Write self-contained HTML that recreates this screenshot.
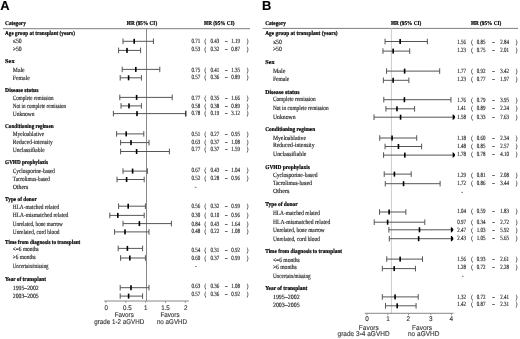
<!DOCTYPE html>
<html><head><meta charset="utf-8"><style>
html,body{margin:0;padding:0;background:#fff;}
svg{display:block;will-change:transform;text-rendering:geometricPrecision;}
</style></head><body>
<svg width="520" height="339" viewBox="0 0 520 339">
<defs><filter id="bl" x="0" y="0" width="100%" height="100%"><feGaussianBlur stdDeviation="0.35"/></filter></defs>
<rect width="520" height="339" fill="#fff"/>
<g filter="url(#bl)">
<text transform="translate(0.20,9.70) scale(0.1000,0.1000)" font-size="130.0" font-family='"Liberation Sans", sans-serif' font-weight="bold" fill="#000" stroke="#000" stroke-width="1.20">A</text>
<text transform="translate(5.10,25.10) scale(0.1000,0.1150)" font-size="52.5" font-family='"Liberation Serif", serif' font-weight="bold" fill="#000" stroke="#000" stroke-width="1.80">Category</text>
<text transform="translate(126.80,25.10) scale(0.1000,0.1150)" font-size="52.5" font-family='"Liberation Serif", serif' font-weight="bold" fill="#000" stroke="#000" stroke-width="1.80">HR (95% CI)</text>
<text transform="translate(204.10,25.10) scale(0.1000,0.1150)" font-size="52.5" font-family='"Liberation Serif", serif' font-weight="bold" fill="#000" stroke="#000" stroke-width="1.80">HR (95% CI)</text>
<line x1="3.00" y1="28.70" x2="250.00" y2="28.70" stroke="#707070" stroke-width="0.9"/>
<line x1="146.50" y1="28.70" x2="146.50" y2="301.00" stroke="#8a8a8a" stroke-width="1.0"/>
<text transform="translate(5.10,35.30) scale(0.0990,0.1150)" font-size="52.5" font-family='"Liberation Serif", serif' font-weight="bold" fill="#000" stroke="#000" stroke-width="1.80">Age group at transplant (years)</text>
<text transform="translate(12.80,43.10) scale(0.1139,0.1300)" font-size="50.0" font-family='"Liberation Serif", serif' fill="#222" stroke="#222" stroke-width="1.20">≤50</text>
<text transform="translate(191.40,43.00) scale(0.1000,0.1300)" font-size="50.0" font-family='"Liberation Serif", serif' fill="#222" stroke="#222" stroke-width="1.20">0.71</text>
<text transform="translate(204.50,43.00) scale(0.1000,0.1300)" font-size="50.0" font-family='"Liberation Serif", serif' fill="#222" stroke="#222" stroke-width="1.20">(</text>
<text transform="translate(210.40,43.00) scale(0.1000,0.1300)" font-size="50.0" font-family='"Liberation Serif", serif' fill="#222" stroke="#222" stroke-width="1.20">0.43</text>
<text transform="translate(225.00,43.00) scale(0.1000,0.1300)" font-size="50.0" font-family='"Liberation Serif", serif' fill="#222" stroke="#222" stroke-width="1.20">–</text>
<text transform="translate(231.30,43.00) scale(0.1000,0.1300)" font-size="50.0" font-family='"Liberation Serif", serif' fill="#222" stroke="#222" stroke-width="1.20">1.19</text>
<text transform="translate(246.80,43.00) scale(0.1000,0.1300)" font-size="50.0" font-family='"Liberation Serif", serif' fill="#222" stroke="#222" stroke-width="1.20">)</text>
<line x1="123.00" y1="41.30" x2="153.40" y2="41.30" stroke="#555" stroke-width="1.0"/>
<line x1="123.00" y1="38.50" x2="123.00" y2="44.10" stroke="#555" stroke-width="1.0"/>
<line x1="153.40" y1="38.50" x2="153.40" y2="44.10" stroke="#555" stroke-width="1.0"/>
<rect x="133.40" y="38.80" width="1.60" height="5.00" fill="#000"/>
<text transform="translate(12.80,51.00) scale(0.1139,0.1300)" font-size="50.0" font-family='"Liberation Serif", serif' fill="#222" stroke="#222" stroke-width="1.20">&gt;50</text>
<text transform="translate(191.40,50.90) scale(0.1000,0.1300)" font-size="50.0" font-family='"Liberation Serif", serif' fill="#222" stroke="#222" stroke-width="1.20">0.53</text>
<text transform="translate(204.50,50.90) scale(0.1000,0.1300)" font-size="50.0" font-family='"Liberation Serif", serif' fill="#222" stroke="#222" stroke-width="1.20">(</text>
<text transform="translate(210.40,50.90) scale(0.1000,0.1300)" font-size="50.0" font-family='"Liberation Serif", serif' fill="#222" stroke="#222" stroke-width="1.20">0.32</text>
<text transform="translate(225.00,50.90) scale(0.1000,0.1300)" font-size="50.0" font-family='"Liberation Serif", serif' fill="#222" stroke="#222" stroke-width="1.20">–</text>
<text transform="translate(231.30,50.90) scale(0.1000,0.1300)" font-size="50.0" font-family='"Liberation Serif", serif' fill="#222" stroke="#222" stroke-width="1.20">0.87</text>
<text transform="translate(246.80,50.90) scale(0.1000,0.1300)" font-size="50.0" font-family='"Liberation Serif", serif' fill="#222" stroke="#222" stroke-width="1.20">)</text>
<line x1="118.60" y1="50.40" x2="140.60" y2="50.40" stroke="#555" stroke-width="1.0"/>
<line x1="118.60" y1="47.60" x2="118.60" y2="53.20" stroke="#555" stroke-width="1.0"/>
<line x1="140.60" y1="47.60" x2="140.60" y2="53.20" stroke="#555" stroke-width="1.0"/>
<rect x="126.20" y="47.90" width="1.60" height="5.00" fill="#000"/>
<text transform="translate(5.10,63.40) scale(0.1197,0.1150)" font-size="52.5" font-family='"Liberation Serif", serif' font-weight="bold" fill="#000" stroke="#000" stroke-width="1.80">Sex</text>
<text transform="translate(12.80,71.50) scale(0.1146,0.1300)" font-size="50.0" font-family='"Liberation Serif", serif' fill="#222" stroke="#222" stroke-width="1.20">Male</text>
<text transform="translate(191.40,71.60) scale(0.1000,0.1300)" font-size="50.0" font-family='"Liberation Serif", serif' fill="#222" stroke="#222" stroke-width="1.20">0.75</text>
<text transform="translate(204.50,71.60) scale(0.1000,0.1300)" font-size="50.0" font-family='"Liberation Serif", serif' fill="#222" stroke="#222" stroke-width="1.20">(</text>
<text transform="translate(210.40,71.60) scale(0.1000,0.1300)" font-size="50.0" font-family='"Liberation Serif", serif' fill="#222" stroke="#222" stroke-width="1.20">0.41</text>
<text transform="translate(225.00,71.60) scale(0.1000,0.1300)" font-size="50.0" font-family='"Liberation Serif", serif' fill="#222" stroke="#222" stroke-width="1.20">–</text>
<text transform="translate(231.30,71.60) scale(0.1000,0.1300)" font-size="50.0" font-family='"Liberation Serif", serif' fill="#222" stroke="#222" stroke-width="1.20">1.35</text>
<text transform="translate(246.80,71.60) scale(0.1000,0.1300)" font-size="50.0" font-family='"Liberation Serif", serif' fill="#222" stroke="#222" stroke-width="1.20">)</text>
<line x1="122.20" y1="69.40" x2="159.80" y2="69.40" stroke="#555" stroke-width="1.0"/>
<line x1="122.20" y1="66.60" x2="122.20" y2="72.20" stroke="#555" stroke-width="1.0"/>
<line x1="159.80" y1="66.60" x2="159.80" y2="72.20" stroke="#555" stroke-width="1.0"/>
<rect x="135.00" y="66.90" width="1.60" height="5.00" fill="#000"/>
<text transform="translate(12.80,79.70) scale(0.1147,0.1300)" font-size="50.0" font-family='"Liberation Serif", serif' fill="#222" stroke="#222" stroke-width="1.20">Female</text>
<text transform="translate(191.40,79.40) scale(0.1000,0.1300)" font-size="50.0" font-family='"Liberation Serif", serif' fill="#222" stroke="#222" stroke-width="1.20">0.57</text>
<text transform="translate(204.50,79.40) scale(0.1000,0.1300)" font-size="50.0" font-family='"Liberation Serif", serif' fill="#222" stroke="#222" stroke-width="1.20">(</text>
<text transform="translate(210.40,79.40) scale(0.1000,0.1300)" font-size="50.0" font-family='"Liberation Serif", serif' fill="#222" stroke="#222" stroke-width="1.20">0.36</text>
<text transform="translate(225.00,79.40) scale(0.1000,0.1300)" font-size="50.0" font-family='"Liberation Serif", serif' fill="#222" stroke="#222" stroke-width="1.20">–</text>
<text transform="translate(231.30,79.40) scale(0.1000,0.1300)" font-size="50.0" font-family='"Liberation Serif", serif' fill="#222" stroke="#222" stroke-width="1.20">0.89</text>
<text transform="translate(246.80,79.40) scale(0.1000,0.1300)" font-size="50.0" font-family='"Liberation Serif", serif' fill="#222" stroke="#222" stroke-width="1.20">)</text>
<line x1="120.20" y1="77.80" x2="141.40" y2="77.80" stroke="#555" stroke-width="1.0"/>
<line x1="120.20" y1="75.00" x2="120.20" y2="80.60" stroke="#555" stroke-width="1.0"/>
<line x1="141.40" y1="75.00" x2="141.40" y2="80.60" stroke="#555" stroke-width="1.0"/>
<rect x="127.80" y="75.30" width="1.60" height="5.00" fill="#000"/>
<text transform="translate(5.10,92.00) scale(0.1071,0.1150)" font-size="52.5" font-family='"Liberation Serif", serif' font-weight="bold" fill="#000" stroke="#000" stroke-width="1.80">Disease status</text>
<text transform="translate(12.80,99.80) scale(0.1018,0.1300)" font-size="50.0" font-family='"Liberation Serif", serif' fill="#222" stroke="#222" stroke-width="1.20">Complete remission</text>
<text transform="translate(191.40,99.60) scale(0.1000,0.1300)" font-size="50.0" font-family='"Liberation Serif", serif' fill="#222" stroke="#222" stroke-width="1.20">0.77</text>
<text transform="translate(204.50,99.60) scale(0.1000,0.1300)" font-size="50.0" font-family='"Liberation Serif", serif' fill="#222" stroke="#222" stroke-width="1.20">(</text>
<text transform="translate(210.40,99.60) scale(0.1000,0.1300)" font-size="50.0" font-family='"Liberation Serif", serif' fill="#222" stroke="#222" stroke-width="1.20">0.35</text>
<text transform="translate(225.00,99.60) scale(0.1000,0.1300)" font-size="50.0" font-family='"Liberation Serif", serif' fill="#222" stroke="#222" stroke-width="1.20">–</text>
<text transform="translate(231.30,99.60) scale(0.1000,0.1300)" font-size="50.0" font-family='"Liberation Serif", serif' fill="#222" stroke="#222" stroke-width="1.20">1.66</text>
<text transform="translate(246.80,99.60) scale(0.1000,0.1300)" font-size="50.0" font-family='"Liberation Serif", serif' fill="#222" stroke="#222" stroke-width="1.20">)</text>
<line x1="119.80" y1="97.40" x2="172.20" y2="97.40" stroke="#555" stroke-width="1.0"/>
<line x1="119.80" y1="94.60" x2="119.80" y2="100.20" stroke="#555" stroke-width="1.0"/>
<line x1="172.20" y1="94.60" x2="172.20" y2="100.20" stroke="#555" stroke-width="1.0"/>
<rect x="135.80" y="94.90" width="1.60" height="5.00" fill="#000"/>
<text transform="translate(12.80,107.90) scale(0.1008,0.1300)" font-size="50.0" font-family='"Liberation Serif", serif' fill="#222" stroke="#222" stroke-width="1.20">Not in complete remission</text>
<text transform="translate(191.40,107.70) scale(0.1000,0.1300)" font-size="50.0" font-family='"Liberation Serif", serif' fill="#222" stroke="#222" stroke-width="1.20">0.58</text>
<text transform="translate(204.50,107.70) scale(0.1000,0.1300)" font-size="50.0" font-family='"Liberation Serif", serif' fill="#222" stroke="#222" stroke-width="1.20">(</text>
<text transform="translate(210.40,107.70) scale(0.1000,0.1300)" font-size="50.0" font-family='"Liberation Serif", serif' fill="#222" stroke="#222" stroke-width="1.20">0.38</text>
<text transform="translate(225.00,107.70) scale(0.1000,0.1300)" font-size="50.0" font-family='"Liberation Serif", serif' fill="#222" stroke="#222" stroke-width="1.20">–</text>
<text transform="translate(231.30,107.70) scale(0.1000,0.1300)" font-size="50.0" font-family='"Liberation Serif", serif' fill="#222" stroke="#222" stroke-width="1.20">0.89</text>
<text transform="translate(246.80,107.70) scale(0.1000,0.1300)" font-size="50.0" font-family='"Liberation Serif", serif' fill="#222" stroke="#222" stroke-width="1.20">)</text>
<line x1="121.00" y1="105.90" x2="141.40" y2="105.90" stroke="#555" stroke-width="1.0"/>
<line x1="121.00" y1="103.10" x2="121.00" y2="108.70" stroke="#555" stroke-width="1.0"/>
<line x1="141.40" y1="103.10" x2="141.40" y2="108.70" stroke="#555" stroke-width="1.0"/>
<rect x="128.20" y="103.40" width="1.60" height="5.00" fill="#000"/>
<text transform="translate(12.80,116.00) scale(0.1095,0.1300)" font-size="50.0" font-family='"Liberation Serif", serif' fill="#222" stroke="#222" stroke-width="1.20">Unknown</text>
<text transform="translate(191.40,115.40) scale(0.1000,0.1300)" font-size="50.0" font-family='"Liberation Serif", serif' fill="#222" stroke="#222" stroke-width="1.20">0.78</text>
<text transform="translate(204.50,115.40) scale(0.1000,0.1300)" font-size="50.0" font-family='"Liberation Serif", serif' fill="#222" stroke="#222" stroke-width="1.20">(</text>
<text transform="translate(210.40,115.40) scale(0.1000,0.1300)" font-size="50.0" font-family='"Liberation Serif", serif' fill="#222" stroke="#222" stroke-width="1.20">0.19</text>
<text transform="translate(225.00,115.40) scale(0.1000,0.1300)" font-size="50.0" font-family='"Liberation Serif", serif' fill="#222" stroke="#222" stroke-width="1.20">–</text>
<text transform="translate(231.30,115.40) scale(0.1000,0.1300)" font-size="50.0" font-family='"Liberation Serif", serif' fill="#222" stroke="#222" stroke-width="1.20">3.12</text>
<text transform="translate(246.80,115.40) scale(0.1000,0.1300)" font-size="50.0" font-family='"Liberation Serif", serif' fill="#222" stroke="#222" stroke-width="1.20">)</text>
<line x1="113.40" y1="113.60" x2="185.80" y2="113.60" stroke="#555" stroke-width="1.0"/>
<line x1="113.40" y1="110.80" x2="113.40" y2="116.40" stroke="#555" stroke-width="1.0"/>
<line x1="185.80" y1="110.80" x2="185.80" y2="116.40" stroke="#222" stroke-width="1.3"/>
<rect x="136.20" y="111.10" width="1.60" height="5.00" fill="#000"/>
<text transform="translate(5.10,128.30) scale(0.0989,0.1150)" font-size="52.5" font-family='"Liberation Serif", serif' font-weight="bold" fill="#000" stroke="#000" stroke-width="1.80">Conditioning regimen</text>
<text transform="translate(12.80,136.30) scale(0.1082,0.1300)" font-size="50.0" font-family='"Liberation Serif", serif' fill="#222" stroke="#222" stroke-width="1.20">Myeloablative</text>
<text transform="translate(191.40,136.00) scale(0.1000,0.1300)" font-size="50.0" font-family='"Liberation Serif", serif' fill="#222" stroke="#222" stroke-width="1.20">0.51</text>
<text transform="translate(204.50,136.00) scale(0.1000,0.1300)" font-size="50.0" font-family='"Liberation Serif", serif' fill="#222" stroke="#222" stroke-width="1.20">(</text>
<text transform="translate(210.40,136.00) scale(0.1000,0.1300)" font-size="50.0" font-family='"Liberation Serif", serif' fill="#222" stroke="#222" stroke-width="1.20">0.27</text>
<text transform="translate(225.00,136.00) scale(0.1000,0.1300)" font-size="50.0" font-family='"Liberation Serif", serif' fill="#222" stroke="#222" stroke-width="1.20">–</text>
<text transform="translate(231.30,136.00) scale(0.1000,0.1300)" font-size="50.0" font-family='"Liberation Serif", serif' fill="#222" stroke="#222" stroke-width="1.20">0.95</text>
<text transform="translate(246.80,136.00) scale(0.1000,0.1300)" font-size="50.0" font-family='"Liberation Serif", serif' fill="#222" stroke="#222" stroke-width="1.20">)</text>
<line x1="116.60" y1="133.90" x2="143.80" y2="133.90" stroke="#555" stroke-width="1.0"/>
<line x1="116.60" y1="131.10" x2="116.60" y2="136.70" stroke="#555" stroke-width="1.0"/>
<line x1="143.80" y1="131.10" x2="143.80" y2="136.70" stroke="#555" stroke-width="1.0"/>
<rect x="125.40" y="131.40" width="1.60" height="5.00" fill="#000"/>
<text transform="translate(12.80,144.20) scale(0.1095,0.1300)" font-size="50.0" font-family='"Liberation Serif", serif' fill="#222" stroke="#222" stroke-width="1.20">Reduced-intensity</text>
<text transform="translate(191.40,143.80) scale(0.1000,0.1300)" font-size="50.0" font-family='"Liberation Serif", serif' fill="#222" stroke="#222" stroke-width="1.20">0.63</text>
<text transform="translate(204.50,143.80) scale(0.1000,0.1300)" font-size="50.0" font-family='"Liberation Serif", serif' fill="#222" stroke="#222" stroke-width="1.20">(</text>
<text transform="translate(210.40,143.80) scale(0.1000,0.1300)" font-size="50.0" font-family='"Liberation Serif", serif' fill="#222" stroke="#222" stroke-width="1.20">0.37</text>
<text transform="translate(225.00,143.80) scale(0.1000,0.1300)" font-size="50.0" font-family='"Liberation Serif", serif' fill="#222" stroke="#222" stroke-width="1.20">–</text>
<text transform="translate(231.30,143.80) scale(0.1000,0.1300)" font-size="50.0" font-family='"Liberation Serif", serif' fill="#222" stroke="#222" stroke-width="1.20">1.08</text>
<text transform="translate(246.80,143.80) scale(0.1000,0.1300)" font-size="50.0" font-family='"Liberation Serif", serif' fill="#222" stroke="#222" stroke-width="1.20">)</text>
<line x1="120.60" y1="142.60" x2="149.00" y2="142.60" stroke="#555" stroke-width="1.0"/>
<line x1="120.60" y1="139.80" x2="120.60" y2="145.40" stroke="#555" stroke-width="1.0"/>
<line x1="149.00" y1="139.80" x2="149.00" y2="145.40" stroke="#555" stroke-width="1.0"/>
<rect x="130.20" y="140.10" width="1.60" height="5.00" fill="#000"/>
<text transform="translate(12.80,152.10) scale(0.1112,0.1300)" font-size="50.0" font-family='"Liberation Serif", serif' fill="#222" stroke="#222" stroke-width="1.20">Unclassifiable</text>
<text transform="translate(191.40,151.20) scale(0.1000,0.1300)" font-size="50.0" font-family='"Liberation Serif", serif' fill="#222" stroke="#222" stroke-width="1.20">0.77</text>
<text transform="translate(204.50,151.20) scale(0.1000,0.1300)" font-size="50.0" font-family='"Liberation Serif", serif' fill="#222" stroke="#222" stroke-width="1.20">(</text>
<text transform="translate(210.40,151.20) scale(0.1000,0.1300)" font-size="50.0" font-family='"Liberation Serif", serif' fill="#222" stroke="#222" stroke-width="1.20">0.37</text>
<text transform="translate(225.00,151.20) scale(0.1000,0.1300)" font-size="50.0" font-family='"Liberation Serif", serif' fill="#222" stroke="#222" stroke-width="1.20">–</text>
<text transform="translate(231.30,151.20) scale(0.1000,0.1300)" font-size="50.0" font-family='"Liberation Serif", serif' fill="#222" stroke="#222" stroke-width="1.20">1.59</text>
<text transform="translate(246.80,151.20) scale(0.1000,0.1300)" font-size="50.0" font-family='"Liberation Serif", serif' fill="#222" stroke="#222" stroke-width="1.20">)</text>
<line x1="120.60" y1="151.50" x2="169.40" y2="151.50" stroke="#555" stroke-width="1.0"/>
<line x1="120.60" y1="148.70" x2="120.60" y2="154.30" stroke="#555" stroke-width="1.0"/>
<line x1="169.40" y1="148.70" x2="169.40" y2="154.30" stroke="#555" stroke-width="1.0"/>
<rect x="135.80" y="149.00" width="1.60" height="5.00" fill="#000"/>
<text transform="translate(5.10,164.40) scale(0.0986,0.1150)" font-size="52.5" font-family='"Liberation Serif", serif' font-weight="bold" fill="#000" stroke="#000" stroke-width="1.80">GVHD prophylaxis</text>
<text transform="translate(12.80,172.50) scale(0.1063,0.1300)" font-size="50.0" font-family='"Liberation Serif", serif' fill="#222" stroke="#222" stroke-width="1.20">Cyclosporine-based</text>
<text transform="translate(191.40,171.90) scale(0.1000,0.1300)" font-size="50.0" font-family='"Liberation Serif", serif' fill="#222" stroke="#222" stroke-width="1.20">0.67</text>
<text transform="translate(204.50,171.90) scale(0.1000,0.1300)" font-size="50.0" font-family='"Liberation Serif", serif' fill="#222" stroke="#222" stroke-width="1.20">(</text>
<text transform="translate(210.40,171.90) scale(0.1000,0.1300)" font-size="50.0" font-family='"Liberation Serif", serif' fill="#222" stroke="#222" stroke-width="1.20">0.43</text>
<text transform="translate(225.00,171.90) scale(0.1000,0.1300)" font-size="50.0" font-family='"Liberation Serif", serif' fill="#222" stroke="#222" stroke-width="1.20">–</text>
<text transform="translate(231.30,171.90) scale(0.1000,0.1300)" font-size="50.0" font-family='"Liberation Serif", serif' fill="#222" stroke="#222" stroke-width="1.20">1.04</text>
<text transform="translate(246.80,171.90) scale(0.1000,0.1300)" font-size="50.0" font-family='"Liberation Serif", serif' fill="#222" stroke="#222" stroke-width="1.20">)</text>
<line x1="123.00" y1="171.10" x2="147.40" y2="171.10" stroke="#555" stroke-width="1.0"/>
<line x1="123.00" y1="168.30" x2="123.00" y2="173.90" stroke="#555" stroke-width="1.0"/>
<line x1="147.40" y1="168.30" x2="147.40" y2="173.90" stroke="#555" stroke-width="1.0"/>
<rect x="131.80" y="168.60" width="1.60" height="5.00" fill="#000"/>
<text transform="translate(12.80,180.70) scale(0.1047,0.1300)" font-size="50.0" font-family='"Liberation Serif", serif' fill="#222" stroke="#222" stroke-width="1.20">Tacrolimus-based</text>
<text transform="translate(191.40,180.00) scale(0.1000,0.1300)" font-size="50.0" font-family='"Liberation Serif", serif' fill="#222" stroke="#222" stroke-width="1.20">0.52</text>
<text transform="translate(204.50,180.00) scale(0.1000,0.1300)" font-size="50.0" font-family='"Liberation Serif", serif' fill="#222" stroke="#222" stroke-width="1.20">(</text>
<text transform="translate(210.40,180.00) scale(0.1000,0.1300)" font-size="50.0" font-family='"Liberation Serif", serif' fill="#222" stroke="#222" stroke-width="1.20">0.28</text>
<text transform="translate(225.00,180.00) scale(0.1000,0.1300)" font-size="50.0" font-family='"Liberation Serif", serif' fill="#222" stroke="#222" stroke-width="1.20">–</text>
<text transform="translate(231.30,180.00) scale(0.1000,0.1300)" font-size="50.0" font-family='"Liberation Serif", serif' fill="#222" stroke="#222" stroke-width="1.20">0.96</text>
<text transform="translate(246.80,180.00) scale(0.1000,0.1300)" font-size="50.0" font-family='"Liberation Serif", serif' fill="#222" stroke="#222" stroke-width="1.20">)</text>
<line x1="117.00" y1="179.50" x2="144.20" y2="179.50" stroke="#555" stroke-width="1.0"/>
<line x1="117.00" y1="176.70" x2="117.00" y2="182.30" stroke="#555" stroke-width="1.0"/>
<line x1="144.20" y1="176.70" x2="144.20" y2="182.30" stroke="#555" stroke-width="1.0"/>
<rect x="125.80" y="177.00" width="1.60" height="5.00" fill="#000"/>
<text transform="translate(12.80,188.50) scale(0.1160,0.1300)" font-size="50.0" font-family='"Liberation Serif", serif' fill="#222" stroke="#222" stroke-width="1.20">Others</text>
<rect x="194.80" y="186.90" width="1.60" height="0.80" fill="#555"/>
<text transform="translate(5.10,200.70) scale(0.1007,0.1150)" font-size="52.5" font-family='"Liberation Serif", serif' font-weight="bold" fill="#000" stroke="#000" stroke-width="1.80">Type of donor</text>
<text transform="translate(12.80,209.20) scale(0.1060,0.1300)" font-size="50.0" font-family='"Liberation Serif", serif' fill="#222" stroke="#222" stroke-width="1.20">HLA-matched related</text>
<text transform="translate(191.40,208.40) scale(0.1000,0.1300)" font-size="50.0" font-family='"Liberation Serif", serif' fill="#222" stroke="#222" stroke-width="1.20">0.56</text>
<text transform="translate(204.50,208.40) scale(0.1000,0.1300)" font-size="50.0" font-family='"Liberation Serif", serif' fill="#222" stroke="#222" stroke-width="1.20">(</text>
<text transform="translate(210.40,208.40) scale(0.1000,0.1300)" font-size="50.0" font-family='"Liberation Serif", serif' fill="#222" stroke="#222" stroke-width="1.20">0.32</text>
<text transform="translate(225.00,208.40) scale(0.1000,0.1300)" font-size="50.0" font-family='"Liberation Serif", serif' fill="#222" stroke="#222" stroke-width="1.20">–</text>
<text transform="translate(231.30,208.40) scale(0.1000,0.1300)" font-size="50.0" font-family='"Liberation Serif", serif' fill="#222" stroke="#222" stroke-width="1.20">0.99</text>
<text transform="translate(246.80,208.40) scale(0.1000,0.1300)" font-size="50.0" font-family='"Liberation Serif", serif' fill="#222" stroke="#222" stroke-width="1.20">)</text>
<line x1="118.60" y1="206.20" x2="145.40" y2="206.20" stroke="#555" stroke-width="1.0"/>
<line x1="118.60" y1="203.40" x2="118.60" y2="209.00" stroke="#555" stroke-width="1.0"/>
<line x1="145.40" y1="203.40" x2="145.40" y2="209.00" stroke="#555" stroke-width="1.0"/>
<rect x="127.40" y="203.70" width="1.60" height="5.00" fill="#000"/>
<text transform="translate(12.80,217.30) scale(0.1090,0.1300)" font-size="50.0" font-family='"Liberation Serif", serif' fill="#222" stroke="#222" stroke-width="1.20">HLA-mismatched related</text>
<text transform="translate(191.40,216.90) scale(0.1000,0.1300)" font-size="50.0" font-family='"Liberation Serif", serif' fill="#222" stroke="#222" stroke-width="1.20">0.30</text>
<text transform="translate(204.50,216.90) scale(0.1000,0.1300)" font-size="50.0" font-family='"Liberation Serif", serif' fill="#222" stroke="#222" stroke-width="1.20">(</text>
<text transform="translate(210.40,216.90) scale(0.1000,0.1300)" font-size="50.0" font-family='"Liberation Serif", serif' fill="#222" stroke="#222" stroke-width="1.20">0.10</text>
<text transform="translate(225.00,216.90) scale(0.1000,0.1300)" font-size="50.0" font-family='"Liberation Serif", serif' fill="#222" stroke="#222" stroke-width="1.20">–</text>
<text transform="translate(231.30,216.90) scale(0.1000,0.1300)" font-size="50.0" font-family='"Liberation Serif", serif' fill="#222" stroke="#222" stroke-width="1.20">0.96</text>
<text transform="translate(246.80,216.90) scale(0.1000,0.1300)" font-size="50.0" font-family='"Liberation Serif", serif' fill="#222" stroke="#222" stroke-width="1.20">)</text>
<line x1="109.80" y1="215.40" x2="144.20" y2="215.40" stroke="#555" stroke-width="1.0"/>
<line x1="109.80" y1="212.60" x2="109.80" y2="218.20" stroke="#555" stroke-width="1.0"/>
<line x1="144.20" y1="212.60" x2="144.20" y2="218.20" stroke="#555" stroke-width="1.0"/>
<rect x="117.00" y="212.90" width="1.60" height="5.00" fill="#000"/>
<text transform="translate(12.80,226.40) scale(0.1025,0.1300)" font-size="50.0" font-family='"Liberation Serif", serif' fill="#222" stroke="#222" stroke-width="1.20">Unrelated, bone marrow</text>
<text transform="translate(191.40,225.60) scale(0.1000,0.1300)" font-size="50.0" font-family='"Liberation Serif", serif' fill="#222" stroke="#222" stroke-width="1.20">0.84</text>
<text transform="translate(204.50,225.60) scale(0.1000,0.1300)" font-size="50.0" font-family='"Liberation Serif", serif' fill="#222" stroke="#222" stroke-width="1.20">(</text>
<text transform="translate(210.40,225.60) scale(0.1000,0.1300)" font-size="50.0" font-family='"Liberation Serif", serif' fill="#222" stroke="#222" stroke-width="1.20">0.43</text>
<text transform="translate(225.00,225.60) scale(0.1000,0.1300)" font-size="50.0" font-family='"Liberation Serif", serif' fill="#222" stroke="#222" stroke-width="1.20">–</text>
<text transform="translate(231.30,225.60) scale(0.1000,0.1300)" font-size="50.0" font-family='"Liberation Serif", serif' fill="#222" stroke="#222" stroke-width="1.20">1.64</text>
<text transform="translate(246.80,225.60) scale(0.1000,0.1300)" font-size="50.0" font-family='"Liberation Serif", serif' fill="#222" stroke="#222" stroke-width="1.20">)</text>
<line x1="123.00" y1="223.60" x2="171.40" y2="223.60" stroke="#555" stroke-width="1.0"/>
<line x1="123.00" y1="220.80" x2="123.00" y2="226.40" stroke="#555" stroke-width="1.0"/>
<line x1="171.40" y1="220.80" x2="171.40" y2="226.40" stroke="#555" stroke-width="1.0"/>
<rect x="138.60" y="221.10" width="1.60" height="5.00" fill="#000"/>
<text transform="translate(12.80,234.30) scale(0.1067,0.1300)" font-size="50.0" font-family='"Liberation Serif", serif' fill="#222" stroke="#222" stroke-width="1.20">Unrelated, cord blood</text>
<text transform="translate(191.40,232.80) scale(0.1000,0.1300)" font-size="50.0" font-family='"Liberation Serif", serif' fill="#222" stroke="#222" stroke-width="1.20">0.48</text>
<text transform="translate(204.50,232.80) scale(0.1000,0.1300)" font-size="50.0" font-family='"Liberation Serif", serif' fill="#222" stroke="#222" stroke-width="1.20">(</text>
<text transform="translate(210.40,232.80) scale(0.1000,0.1300)" font-size="50.0" font-family='"Liberation Serif", serif' fill="#222" stroke="#222" stroke-width="1.20">0.22</text>
<text transform="translate(225.00,232.80) scale(0.1000,0.1300)" font-size="50.0" font-family='"Liberation Serif", serif' fill="#222" stroke="#222" stroke-width="1.20">–</text>
<text transform="translate(231.30,232.80) scale(0.1000,0.1300)" font-size="50.0" font-family='"Liberation Serif", serif' fill="#222" stroke="#222" stroke-width="1.20">1.08</text>
<text transform="translate(246.80,232.80) scale(0.1000,0.1300)" font-size="50.0" font-family='"Liberation Serif", serif' fill="#222" stroke="#222" stroke-width="1.20">)</text>
<line x1="114.60" y1="231.90" x2="149.00" y2="231.90" stroke="#555" stroke-width="1.0"/>
<line x1="114.60" y1="229.10" x2="114.60" y2="234.70" stroke="#555" stroke-width="1.0"/>
<line x1="149.00" y1="229.10" x2="149.00" y2="234.70" stroke="#555" stroke-width="1.0"/>
<rect x="124.20" y="229.40" width="1.60" height="5.00" fill="#000"/>
<text transform="translate(5.10,243.80) scale(0.0987,0.1150)" font-size="52.5" font-family='"Liberation Serif", serif' font-weight="bold" fill="#000" stroke="#000" stroke-width="1.80">Time from diagnosis to transplant</text>
<text transform="translate(12.80,250.60) scale(0.1074,0.1300)" font-size="50.0" font-family='"Liberation Serif", serif' fill="#222" stroke="#222" stroke-width="1.20">&lt;=6 months</text>
<text transform="translate(191.40,251.50) scale(0.1000,0.1300)" font-size="50.0" font-family='"Liberation Serif", serif' fill="#222" stroke="#222" stroke-width="1.20">0.54</text>
<text transform="translate(204.50,251.50) scale(0.1000,0.1300)" font-size="50.0" font-family='"Liberation Serif", serif' fill="#222" stroke="#222" stroke-width="1.20">(</text>
<text transform="translate(210.40,251.50) scale(0.1000,0.1300)" font-size="50.0" font-family='"Liberation Serif", serif' fill="#222" stroke="#222" stroke-width="1.20">0.31</text>
<text transform="translate(225.00,251.50) scale(0.1000,0.1300)" font-size="50.0" font-family='"Liberation Serif", serif' fill="#222" stroke="#222" stroke-width="1.20">–</text>
<text transform="translate(231.30,251.50) scale(0.1000,0.1300)" font-size="50.0" font-family='"Liberation Serif", serif' fill="#222" stroke="#222" stroke-width="1.20">0.92</text>
<text transform="translate(246.80,251.50) scale(0.1000,0.1300)" font-size="50.0" font-family='"Liberation Serif", serif' fill="#222" stroke="#222" stroke-width="1.20">)</text>
<line x1="118.20" y1="248.40" x2="142.60" y2="248.40" stroke="#555" stroke-width="1.0"/>
<line x1="118.20" y1="245.60" x2="118.20" y2="251.20" stroke="#555" stroke-width="1.0"/>
<line x1="142.60" y1="245.60" x2="142.60" y2="251.20" stroke="#555" stroke-width="1.0"/>
<rect x="126.60" y="245.90" width="1.60" height="5.00" fill="#000"/>
<text transform="translate(12.80,258.90) scale(0.1075,0.1300)" font-size="50.0" font-family='"Liberation Serif", serif' fill="#222" stroke="#222" stroke-width="1.20">&gt;6 months</text>
<text transform="translate(191.40,259.50) scale(0.1000,0.1300)" font-size="50.0" font-family='"Liberation Serif", serif' fill="#222" stroke="#222" stroke-width="1.20">0.60</text>
<text transform="translate(204.50,259.50) scale(0.1000,0.1300)" font-size="50.0" font-family='"Liberation Serif", serif' fill="#222" stroke="#222" stroke-width="1.20">(</text>
<text transform="translate(210.40,259.50) scale(0.1000,0.1300)" font-size="50.0" font-family='"Liberation Serif", serif' fill="#222" stroke="#222" stroke-width="1.20">0.37</text>
<text transform="translate(225.00,259.50) scale(0.1000,0.1300)" font-size="50.0" font-family='"Liberation Serif", serif' fill="#222" stroke="#222" stroke-width="1.20">–</text>
<text transform="translate(231.30,259.50) scale(0.1000,0.1300)" font-size="50.0" font-family='"Liberation Serif", serif' fill="#222" stroke="#222" stroke-width="1.20">0.99</text>
<text transform="translate(246.80,259.50) scale(0.1000,0.1300)" font-size="50.0" font-family='"Liberation Serif", serif' fill="#222" stroke="#222" stroke-width="1.20">)</text>
<line x1="120.60" y1="258.00" x2="145.40" y2="258.00" stroke="#555" stroke-width="1.0"/>
<line x1="120.60" y1="255.20" x2="120.60" y2="260.80" stroke="#555" stroke-width="1.0"/>
<line x1="145.40" y1="255.20" x2="145.40" y2="260.80" stroke="#555" stroke-width="1.0"/>
<rect x="129.00" y="255.50" width="1.60" height="5.00" fill="#000"/>
<text transform="translate(12.80,268.00) scale(0.0975,0.1300)" font-size="50.0" font-family='"Liberation Serif", serif' fill="#222" stroke="#222" stroke-width="1.20">Uncertain/missing</text>
<rect x="195.00" y="266.20" width="1.60" height="0.80" fill="#555"/>
<text transform="translate(5.10,281.00) scale(0.1003,0.1150)" font-size="52.5" font-family='"Liberation Serif", serif' font-weight="bold" fill="#000" stroke="#000" stroke-width="1.80">Year of transplant</text>
<text transform="translate(12.80,290.10) scale(0.1148,0.1300)" font-size="50.0" font-family='"Liberation Serif", serif' fill="#222" stroke="#222" stroke-width="1.20">1995–2002</text>
<text transform="translate(191.40,287.70) scale(0.1000,0.1300)" font-size="50.0" font-family='"Liberation Serif", serif' fill="#222" stroke="#222" stroke-width="1.20">0.63</text>
<text transform="translate(204.50,287.70) scale(0.1000,0.1300)" font-size="50.0" font-family='"Liberation Serif", serif' fill="#222" stroke="#222" stroke-width="1.20">(</text>
<text transform="translate(210.40,287.70) scale(0.1000,0.1300)" font-size="50.0" font-family='"Liberation Serif", serif' fill="#222" stroke="#222" stroke-width="1.20">0.36</text>
<text transform="translate(225.00,287.70) scale(0.1000,0.1300)" font-size="50.0" font-family='"Liberation Serif", serif' fill="#222" stroke="#222" stroke-width="1.20">–</text>
<text transform="translate(231.30,287.70) scale(0.1000,0.1300)" font-size="50.0" font-family='"Liberation Serif", serif' fill="#222" stroke="#222" stroke-width="1.20">1.08</text>
<text transform="translate(246.80,287.70) scale(0.1000,0.1300)" font-size="50.0" font-family='"Liberation Serif", serif' fill="#222" stroke="#222" stroke-width="1.20">)</text>
<line x1="120.20" y1="287.70" x2="149.00" y2="287.70" stroke="#555" stroke-width="1.0"/>
<line x1="120.20" y1="284.90" x2="120.20" y2="290.50" stroke="#555" stroke-width="1.0"/>
<line x1="149.00" y1="284.90" x2="149.00" y2="290.50" stroke="#555" stroke-width="1.0"/>
<rect x="130.20" y="285.20" width="1.60" height="5.00" fill="#000"/>
<text transform="translate(12.80,298.00) scale(0.1148,0.1300)" font-size="50.0" font-family='"Liberation Serif", serif' fill="#222" stroke="#222" stroke-width="1.20">2003–2005</text>
<text transform="translate(191.40,295.70) scale(0.1000,0.1300)" font-size="50.0" font-family='"Liberation Serif", serif' fill="#222" stroke="#222" stroke-width="1.20">0.57</text>
<text transform="translate(204.50,295.70) scale(0.1000,0.1300)" font-size="50.0" font-family='"Liberation Serif", serif' fill="#222" stroke="#222" stroke-width="1.20">(</text>
<text transform="translate(210.40,295.70) scale(0.1000,0.1300)" font-size="50.0" font-family='"Liberation Serif", serif' fill="#222" stroke="#222" stroke-width="1.20">0.36</text>
<text transform="translate(225.00,295.70) scale(0.1000,0.1300)" font-size="50.0" font-family='"Liberation Serif", serif' fill="#222" stroke="#222" stroke-width="1.20">–</text>
<text transform="translate(231.30,295.70) scale(0.1000,0.1300)" font-size="50.0" font-family='"Liberation Serif", serif' fill="#222" stroke="#222" stroke-width="1.20">0.92</text>
<text transform="translate(246.80,295.70) scale(0.1000,0.1300)" font-size="50.0" font-family='"Liberation Serif", serif' fill="#222" stroke="#222" stroke-width="1.20">)</text>
<line x1="120.20" y1="296.10" x2="142.60" y2="296.10" stroke="#555" stroke-width="1.0"/>
<line x1="120.20" y1="293.30" x2="120.20" y2="298.90" stroke="#555" stroke-width="1.0"/>
<line x1="142.60" y1="293.30" x2="142.60" y2="298.90" stroke="#555" stroke-width="1.0"/>
<rect x="127.80" y="293.60" width="1.60" height="5.00" fill="#000"/>
<line x1="104.20" y1="301.00" x2="189.00" y2="301.00" stroke="#888" stroke-width="1.0"/>
<line x1="105.80" y1="301.00" x2="105.80" y2="303.00" stroke="#888" stroke-width="0.8"/>
<text transform="translate(106.20,309.60) scale(0.1000,0.1080)" font-size="62.0" font-family='"Liberation Sans", sans-serif' text-anchor="middle" fill="#333" stroke="#333" stroke-width="1.20">0</text>
<line x1="125.80" y1="301.00" x2="125.80" y2="303.00" stroke="#888" stroke-width="0.8"/>
<text transform="translate(127.40,309.60) scale(0.1000,0.1080)" font-size="62.0" font-family='"Liberation Sans", sans-serif' text-anchor="middle" fill="#333" stroke="#333" stroke-width="1.20">0.5</text>
<line x1="145.60" y1="301.00" x2="145.60" y2="303.00" stroke="#888" stroke-width="0.8"/>
<text transform="translate(145.70,309.60) scale(0.1000,0.1080)" font-size="62.0" font-family='"Liberation Sans", sans-serif' text-anchor="middle" fill="#333" stroke="#333" stroke-width="1.20">1</text>
<line x1="165.50" y1="301.00" x2="165.50" y2="303.00" stroke="#888" stroke-width="0.8"/>
<text transform="translate(165.50,309.60) scale(0.1000,0.1080)" font-size="62.0" font-family='"Liberation Sans", sans-serif' text-anchor="middle" fill="#333" stroke="#333" stroke-width="1.20">1.5</text>
<line x1="185.30" y1="301.00" x2="185.30" y2="303.00" stroke="#888" stroke-width="0.8"/>
<text transform="translate(185.70,309.60) scale(0.1000,0.1080)" font-size="62.0" font-family='"Liberation Sans", sans-serif' text-anchor="middle" fill="#333" stroke="#333" stroke-width="1.20">2</text>
<text transform="translate(124.20,317.30) scale(0.1000,0.1100)" font-size="62.5" font-family='"Liberation Sans", sans-serif' text-anchor="middle" fill="#333" stroke="#333" stroke-width="1.20">Favors</text>
<text transform="translate(119.30,324.30) scale(0.1000,0.1100)" font-size="62.5" font-family='"Liberation Sans", sans-serif' text-anchor="middle" fill="#333" stroke="#333" stroke-width="1.20">grade 1-2 aGVHD</text>
<text transform="translate(170.00,317.30) scale(0.1000,0.1100)" font-size="62.5" font-family='"Liberation Sans", sans-serif' text-anchor="middle" fill="#333" stroke="#333" stroke-width="1.20">Favors</text>
<text transform="translate(172.00,324.30) scale(0.1000,0.1100)" font-size="62.5" font-family='"Liberation Sans", sans-serif' text-anchor="middle" fill="#333" stroke="#333" stroke-width="1.20">no aGVHD</text>
<text transform="translate(262.10,9.90) scale(0.1000,0.1000)" font-size="130.0" font-family='"Liberation Sans", sans-serif' font-weight="bold" fill="#000" stroke="#000" stroke-width="1.20">B</text>
<text transform="translate(265.20,24.50) scale(0.1000,0.1150)" font-size="52.5" font-family='"Liberation Serif", serif' font-weight="bold" fill="#000" stroke="#000" stroke-width="1.80">Category</text>
<text transform="translate(390.90,24.50) scale(0.1000,0.1150)" font-size="52.5" font-family='"Liberation Serif", serif' font-weight="bold" fill="#000" stroke="#000" stroke-width="1.80">HR (95% CI)</text>
<text transform="translate(470.90,24.50) scale(0.1000,0.1150)" font-size="52.5" font-family='"Liberation Serif", serif' font-weight="bold" fill="#000" stroke="#000" stroke-width="1.80">HR (95% CI)</text>
<line x1="262.70" y1="28.40" x2="518.00" y2="28.40" stroke="#707070" stroke-width="0.9"/>
<line x1="391.40" y1="28.40" x2="391.40" y2="313.30" stroke="#ccc" stroke-width="1.0"/>
<text transform="translate(265.20,35.30) scale(0.1027,0.1150)" font-size="52.5" font-family='"Liberation Serif", serif' font-weight="bold" fill="#000" stroke="#000" stroke-width="1.80">Age group at transplant (years)</text>
<text transform="translate(272.90,43.90) scale(0.1141,0.1300)" font-size="50.0" font-family='"Liberation Serif", serif' fill="#222" stroke="#222" stroke-width="1.20">≤50</text>
<text transform="translate(457.20,43.60) scale(0.1000,0.1300)" font-size="50.0" font-family='"Liberation Serif", serif' fill="#222" stroke="#222" stroke-width="1.20">1.56</text>
<text transform="translate(471.30,43.60) scale(0.1000,0.1300)" font-size="50.0" font-family='"Liberation Serif", serif' fill="#222" stroke="#222" stroke-width="1.20">(</text>
<text transform="translate(476.70,43.60) scale(0.1000,0.1300)" font-size="50.0" font-family='"Liberation Serif", serif' fill="#222" stroke="#222" stroke-width="1.20">0.85</text>
<text transform="translate(492.20,43.60) scale(0.1000,0.1300)" font-size="50.0" font-family='"Liberation Serif", serif' fill="#222" stroke="#222" stroke-width="1.20">–</text>
<text transform="translate(500.30,43.60) scale(0.1000,0.1300)" font-size="50.0" font-family='"Liberation Serif", serif' fill="#222" stroke="#222" stroke-width="1.20">2.84</text>
<text transform="translate(515.80,43.60) scale(0.1000,0.1300)" font-size="50.0" font-family='"Liberation Serif", serif' fill="#222" stroke="#222" stroke-width="1.20">)</text>
<line x1="385.06" y1="41.50" x2="427.35" y2="41.50" stroke="#555" stroke-width="1.0"/>
<line x1="385.06" y1="38.70" x2="385.06" y2="44.30" stroke="#555" stroke-width="1.0"/>
<line x1="427.35" y1="38.70" x2="427.35" y2="44.30" stroke="#555" stroke-width="1.0"/>
<rect x="399.35" y="39.00" width="1.60" height="5.00" fill="#000"/>
<text transform="translate(272.90,51.40) scale(0.1141,0.1300)" font-size="50.0" font-family='"Liberation Serif", serif' fill="#222" stroke="#222" stroke-width="1.20">&gt;50</text>
<text transform="translate(457.20,51.70) scale(0.1000,0.1300)" font-size="50.0" font-family='"Liberation Serif", serif' fill="#222" stroke="#222" stroke-width="1.20">1.23</text>
<text transform="translate(471.30,51.70) scale(0.1000,0.1300)" font-size="50.0" font-family='"Liberation Serif", serif' fill="#222" stroke="#222" stroke-width="1.20">(</text>
<text transform="translate(476.70,51.70) scale(0.1000,0.1300)" font-size="50.0" font-family='"Liberation Serif", serif' fill="#222" stroke="#222" stroke-width="1.20">0.75</text>
<text transform="translate(492.20,51.70) scale(0.1000,0.1300)" font-size="50.0" font-family='"Liberation Serif", serif' fill="#222" stroke="#222" stroke-width="1.20">–</text>
<text transform="translate(500.30,51.70) scale(0.1000,0.1300)" font-size="50.0" font-family='"Liberation Serif", serif' fill="#222" stroke="#222" stroke-width="1.20">2.01</text>
<text transform="translate(515.80,51.70) scale(0.1000,0.1300)" font-size="50.0" font-family='"Liberation Serif", serif' fill="#222" stroke="#222" stroke-width="1.20">)</text>
<line x1="382.94" y1="51.10" x2="409.71" y2="51.10" stroke="#555" stroke-width="1.0"/>
<line x1="382.94" y1="48.30" x2="382.94" y2="53.90" stroke="#555" stroke-width="1.0"/>
<line x1="409.71" y1="48.30" x2="409.71" y2="53.90" stroke="#555" stroke-width="1.0"/>
<rect x="392.34" y="48.60" width="1.60" height="5.00" fill="#000"/>
<text transform="translate(265.20,64.00) scale(0.1200,0.1150)" font-size="52.5" font-family='"Liberation Serif", serif' font-weight="bold" fill="#000" stroke="#000" stroke-width="1.80">Sex</text>
<text transform="translate(272.90,72.90) scale(0.1216,0.1300)" font-size="50.0" font-family='"Liberation Serif", serif' fill="#222" stroke="#222" stroke-width="1.20">Male</text>
<text transform="translate(457.20,72.50) scale(0.1000,0.1300)" font-size="50.0" font-family='"Liberation Serif", serif' fill="#222" stroke="#222" stroke-width="1.20">1.77</text>
<text transform="translate(471.30,72.50) scale(0.1000,0.1300)" font-size="50.0" font-family='"Liberation Serif", serif' fill="#222" stroke="#222" stroke-width="1.20">(</text>
<text transform="translate(476.70,72.50) scale(0.1000,0.1300)" font-size="50.0" font-family='"Liberation Serif", serif' fill="#222" stroke="#222" stroke-width="1.20">0.92</text>
<text transform="translate(492.20,72.50) scale(0.1000,0.1300)" font-size="50.0" font-family='"Liberation Serif", serif' fill="#222" stroke="#222" stroke-width="1.20">–</text>
<text transform="translate(500.30,72.50) scale(0.1000,0.1300)" font-size="50.0" font-family='"Liberation Serif", serif' fill="#222" stroke="#222" stroke-width="1.20">3.42</text>
<text transform="translate(515.80,72.50) scale(0.1000,0.1300)" font-size="50.0" font-family='"Liberation Serif", serif' fill="#222" stroke="#222" stroke-width="1.20">)</text>
<line x1="386.55" y1="71.10" x2="439.68" y2="71.10" stroke="#555" stroke-width="1.0"/>
<line x1="386.55" y1="68.30" x2="386.55" y2="73.90" stroke="#555" stroke-width="1.0"/>
<line x1="439.68" y1="68.30" x2="439.68" y2="73.90" stroke="#555" stroke-width="1.0"/>
<rect x="403.81" y="68.60" width="1.60" height="5.00" fill="#000"/>
<text transform="translate(272.90,81.10) scale(0.1116,0.1300)" font-size="50.0" font-family='"Liberation Serif", serif' fill="#222" stroke="#222" stroke-width="1.20">Female</text>
<text transform="translate(457.20,81.10) scale(0.1000,0.1300)" font-size="50.0" font-family='"Liberation Serif", serif' fill="#222" stroke="#222" stroke-width="1.20">1.23</text>
<text transform="translate(471.30,81.10) scale(0.1000,0.1300)" font-size="50.0" font-family='"Liberation Serif", serif' fill="#222" stroke="#222" stroke-width="1.20">(</text>
<text transform="translate(476.70,81.10) scale(0.1000,0.1300)" font-size="50.0" font-family='"Liberation Serif", serif' fill="#222" stroke="#222" stroke-width="1.20">0.77</text>
<text transform="translate(492.20,81.10) scale(0.1000,0.1300)" font-size="50.0" font-family='"Liberation Serif", serif' fill="#222" stroke="#222" stroke-width="1.20">–</text>
<text transform="translate(500.30,81.10) scale(0.1000,0.1300)" font-size="50.0" font-family='"Liberation Serif", serif' fill="#222" stroke="#222" stroke-width="1.20">1.97</text>
<text transform="translate(515.80,81.10) scale(0.1000,0.1300)" font-size="50.0" font-family='"Liberation Serif", serif' fill="#222" stroke="#222" stroke-width="1.20">)</text>
<line x1="383.36" y1="80.30" x2="408.86" y2="80.30" stroke="#555" stroke-width="1.0"/>
<line x1="383.36" y1="77.50" x2="383.36" y2="83.10" stroke="#555" stroke-width="1.0"/>
<line x1="408.86" y1="77.50" x2="408.86" y2="83.10" stroke="#555" stroke-width="1.0"/>
<rect x="392.34" y="77.80" width="1.60" height="5.00" fill="#000"/>
<text transform="translate(265.20,93.50) scale(0.1102,0.1150)" font-size="52.5" font-family='"Liberation Serif", serif' font-weight="bold" fill="#000" stroke="#000" stroke-width="1.80">Disease status</text>
<text transform="translate(272.90,101.20) scale(0.1064,0.1300)" font-size="50.0" font-family='"Liberation Serif", serif' fill="#222" stroke="#222" stroke-width="1.20">Complete remission</text>
<text transform="translate(457.20,101.70) scale(0.1000,0.1300)" font-size="50.0" font-family='"Liberation Serif", serif' fill="#222" stroke="#222" stroke-width="1.20">1.76</text>
<text transform="translate(471.30,101.70) scale(0.1000,0.1300)" font-size="50.0" font-family='"Liberation Serif", serif' fill="#222" stroke="#222" stroke-width="1.20">(</text>
<text transform="translate(476.70,101.70) scale(0.1000,0.1300)" font-size="50.0" font-family='"Liberation Serif", serif' fill="#222" stroke="#222" stroke-width="1.20">0.79</text>
<text transform="translate(492.20,101.70) scale(0.1000,0.1300)" font-size="50.0" font-family='"Liberation Serif", serif' fill="#222" stroke="#222" stroke-width="1.20">–</text>
<text transform="translate(500.30,101.70) scale(0.1000,0.1300)" font-size="50.0" font-family='"Liberation Serif", serif' fill="#222" stroke="#222" stroke-width="1.20">3.95</text>
<text transform="translate(515.80,101.70) scale(0.1000,0.1300)" font-size="50.0" font-family='"Liberation Serif", serif' fill="#222" stroke="#222" stroke-width="1.20">)</text>
<line x1="383.79" y1="99.70" x2="450.94" y2="99.70" stroke="#555" stroke-width="1.0"/>
<line x1="383.79" y1="96.90" x2="383.79" y2="102.50" stroke="#555" stroke-width="1.0"/>
<line x1="450.94" y1="96.90" x2="450.94" y2="102.50" stroke="#555" stroke-width="1.0"/>
<rect x="403.60" y="97.20" width="1.60" height="5.00" fill="#000"/>
<text transform="translate(272.90,110.00) scale(0.1052,0.1300)" font-size="50.0" font-family='"Liberation Serif", serif' fill="#222" stroke="#222" stroke-width="1.20">Not in complete remission</text>
<text transform="translate(457.20,110.10) scale(0.1000,0.1300)" font-size="50.0" font-family='"Liberation Serif", serif' fill="#222" stroke="#222" stroke-width="1.20">1.41</text>
<text transform="translate(471.30,110.10) scale(0.1000,0.1300)" font-size="50.0" font-family='"Liberation Serif", serif' fill="#222" stroke="#222" stroke-width="1.20">(</text>
<text transform="translate(476.70,110.10) scale(0.1000,0.1300)" font-size="50.0" font-family='"Liberation Serif", serif' fill="#222" stroke="#222" stroke-width="1.20">0.89</text>
<text transform="translate(492.20,110.10) scale(0.1000,0.1300)" font-size="50.0" font-family='"Liberation Serif", serif' fill="#222" stroke="#222" stroke-width="1.20">–</text>
<text transform="translate(500.30,110.10) scale(0.1000,0.1300)" font-size="50.0" font-family='"Liberation Serif", serif' fill="#222" stroke="#222" stroke-width="1.20">2.24</text>
<text transform="translate(515.80,110.10) scale(0.1000,0.1300)" font-size="50.0" font-family='"Liberation Serif", serif' fill="#222" stroke="#222" stroke-width="1.20">)</text>
<line x1="385.91" y1="108.80" x2="414.60" y2="108.80" stroke="#555" stroke-width="1.0"/>
<line x1="385.91" y1="106.00" x2="385.91" y2="111.60" stroke="#555" stroke-width="1.0"/>
<line x1="414.60" y1="106.00" x2="414.60" y2="111.60" stroke="#555" stroke-width="1.0"/>
<rect x="396.16" y="106.30" width="1.60" height="5.00" fill="#000"/>
<text transform="translate(272.90,118.90) scale(0.1146,0.1300)" font-size="50.0" font-family='"Liberation Serif", serif' fill="#222" stroke="#222" stroke-width="1.20">Unknown</text>
<text transform="translate(457.20,118.70) scale(0.1000,0.1300)" font-size="50.0" font-family='"Liberation Serif", serif' fill="#222" stroke="#222" stroke-width="1.20">1.58</text>
<text transform="translate(471.30,118.70) scale(0.1000,0.1300)" font-size="50.0" font-family='"Liberation Serif", serif' fill="#222" stroke="#222" stroke-width="1.20">(</text>
<text transform="translate(476.70,118.70) scale(0.1000,0.1300)" font-size="50.0" font-family='"Liberation Serif", serif' fill="#222" stroke="#222" stroke-width="1.20">0.33</text>
<text transform="translate(492.20,118.70) scale(0.1000,0.1300)" font-size="50.0" font-family='"Liberation Serif", serif' fill="#222" stroke="#222" stroke-width="1.20">–</text>
<text transform="translate(500.30,118.70) scale(0.1000,0.1300)" font-size="50.0" font-family='"Liberation Serif", serif' fill="#222" stroke="#222" stroke-width="1.20">7.63</text>
<text transform="translate(515.80,118.70) scale(0.1000,0.1300)" font-size="50.0" font-family='"Liberation Serif", serif' fill="#222" stroke="#222" stroke-width="1.20">)</text>
<line x1="374.01" y1="117.20" x2="452.60" y2="117.20" stroke="#555" stroke-width="1.0"/>
<line x1="374.01" y1="114.40" x2="374.01" y2="120.00" stroke="#555" stroke-width="1.0"/>
<path d="M452.60,114.30 C454.00,114.90 455.10,116.20 455.10,117.20 C455.10,118.20 454.00,119.50 452.60,120.10 Z" fill="#000"/>
<rect x="399.77" y="114.70" width="1.60" height="5.00" fill="#000"/>
<text transform="translate(265.20,131.30) scale(0.1019,0.1150)" font-size="52.5" font-family='"Liberation Serif", serif' font-weight="bold" fill="#000" stroke="#000" stroke-width="1.80">Conditioning regimen</text>
<text transform="translate(272.90,139.70) scale(0.1147,0.1300)" font-size="50.0" font-family='"Liberation Serif", serif' fill="#222" stroke="#222" stroke-width="1.20">Myeloablative</text>
<text transform="translate(457.20,139.70) scale(0.1000,0.1300)" font-size="50.0" font-family='"Liberation Serif", serif' fill="#222" stroke="#222" stroke-width="1.20">1.18</text>
<text transform="translate(471.30,139.70) scale(0.1000,0.1300)" font-size="50.0" font-family='"Liberation Serif", serif' fill="#222" stroke="#222" stroke-width="1.20">(</text>
<text transform="translate(476.70,139.70) scale(0.1000,0.1300)" font-size="50.0" font-family='"Liberation Serif", serif' fill="#222" stroke="#222" stroke-width="1.20">0.60</text>
<text transform="translate(492.20,139.70) scale(0.1000,0.1300)" font-size="50.0" font-family='"Liberation Serif", serif' fill="#222" stroke="#222" stroke-width="1.20">–</text>
<text transform="translate(500.30,139.70) scale(0.1000,0.1300)" font-size="50.0" font-family='"Liberation Serif", serif' fill="#222" stroke="#222" stroke-width="1.20">2.34</text>
<text transform="translate(515.80,139.70) scale(0.1000,0.1300)" font-size="50.0" font-family='"Liberation Serif", serif' fill="#222" stroke="#222" stroke-width="1.20">)</text>
<line x1="379.75" y1="138.00" x2="416.73" y2="138.00" stroke="#555" stroke-width="1.0"/>
<line x1="379.75" y1="135.20" x2="379.75" y2="140.80" stroke="#555" stroke-width="1.0"/>
<line x1="416.73" y1="135.20" x2="416.73" y2="140.80" stroke="#555" stroke-width="1.0"/>
<rect x="391.27" y="135.50" width="1.60" height="5.00" fill="#000"/>
<text transform="translate(272.90,147.40) scale(0.1144,0.1300)" font-size="50.0" font-family='"Liberation Serif", serif' fill="#222" stroke="#222" stroke-width="1.20">Reduced-intensity</text>
<text transform="translate(457.20,147.90) scale(0.1000,0.1300)" font-size="50.0" font-family='"Liberation Serif", serif' fill="#222" stroke="#222" stroke-width="1.20">1.48</text>
<text transform="translate(471.30,147.90) scale(0.1000,0.1300)" font-size="50.0" font-family='"Liberation Serif", serif' fill="#222" stroke="#222" stroke-width="1.20">(</text>
<text transform="translate(476.70,147.90) scale(0.1000,0.1300)" font-size="50.0" font-family='"Liberation Serif", serif' fill="#222" stroke="#222" stroke-width="1.20">0.85</text>
<text transform="translate(492.20,147.90) scale(0.1000,0.1300)" font-size="50.0" font-family='"Liberation Serif", serif' fill="#222" stroke="#222" stroke-width="1.20">–</text>
<text transform="translate(500.30,147.90) scale(0.1000,0.1300)" font-size="50.0" font-family='"Liberation Serif", serif' fill="#222" stroke="#222" stroke-width="1.20">2.57</text>
<text transform="translate(515.80,147.90) scale(0.1000,0.1300)" font-size="50.0" font-family='"Liberation Serif", serif' fill="#222" stroke="#222" stroke-width="1.20">)</text>
<line x1="385.06" y1="146.50" x2="421.61" y2="146.50" stroke="#555" stroke-width="1.0"/>
<line x1="385.06" y1="143.70" x2="385.06" y2="149.30" stroke="#555" stroke-width="1.0"/>
<line x1="421.61" y1="143.70" x2="421.61" y2="149.30" stroke="#555" stroke-width="1.0"/>
<rect x="397.65" y="144.00" width="1.60" height="5.00" fill="#000"/>
<text transform="translate(272.90,156.30) scale(0.1172,0.1300)" font-size="50.0" font-family='"Liberation Serif", serif' fill="#222" stroke="#222" stroke-width="1.20">Unclassifiable</text>
<text transform="translate(457.20,156.30) scale(0.1000,0.1300)" font-size="50.0" font-family='"Liberation Serif", serif' fill="#222" stroke="#222" stroke-width="1.20">1.78</text>
<text transform="translate(471.30,156.30) scale(0.1000,0.1300)" font-size="50.0" font-family='"Liberation Serif", serif' fill="#222" stroke="#222" stroke-width="1.20">(</text>
<text transform="translate(476.70,156.30) scale(0.1000,0.1300)" font-size="50.0" font-family='"Liberation Serif", serif' fill="#222" stroke="#222" stroke-width="1.20">0.78</text>
<text transform="translate(492.20,156.30) scale(0.1000,0.1300)" font-size="50.0" font-family='"Liberation Serif", serif' fill="#222" stroke="#222" stroke-width="1.20">–</text>
<text transform="translate(500.30,156.30) scale(0.1000,0.1300)" font-size="50.0" font-family='"Liberation Serif", serif' fill="#222" stroke="#222" stroke-width="1.20">4.10</text>
<text transform="translate(515.80,156.30) scale(0.1000,0.1300)" font-size="50.0" font-family='"Liberation Serif", serif' fill="#222" stroke="#222" stroke-width="1.20">)</text>
<line x1="383.57" y1="155.10" x2="452.60" y2="155.10" stroke="#555" stroke-width="1.0"/>
<line x1="383.57" y1="152.30" x2="383.57" y2="157.90" stroke="#555" stroke-width="1.0"/>
<path d="M452.60,152.20 C454.00,152.80 455.10,154.10 455.10,155.10 C455.10,156.10 454.00,157.40 452.60,158.00 Z" fill="#000"/>
<rect x="404.02" y="152.60" width="1.60" height="5.00" fill="#000"/>
<text transform="translate(265.20,168.60) scale(0.1024,0.1150)" font-size="52.5" font-family='"Liberation Serif", serif' font-weight="bold" fill="#000" stroke="#000" stroke-width="1.80">GVHD prophylaxis</text>
<text transform="translate(272.90,177.10) scale(0.1124,0.1300)" font-size="50.0" font-family='"Liberation Serif", serif' fill="#222" stroke="#222" stroke-width="1.20">Cyclosporine-based</text>
<text transform="translate(457.20,176.80) scale(0.1000,0.1300)" font-size="50.0" font-family='"Liberation Serif", serif' fill="#222" stroke="#222" stroke-width="1.20">1.29</text>
<text transform="translate(471.30,176.80) scale(0.1000,0.1300)" font-size="50.0" font-family='"Liberation Serif", serif' fill="#222" stroke="#222" stroke-width="1.20">(</text>
<text transform="translate(476.70,176.80) scale(0.1000,0.1300)" font-size="50.0" font-family='"Liberation Serif", serif' fill="#222" stroke="#222" stroke-width="1.20">0.81</text>
<text transform="translate(492.20,176.80) scale(0.1000,0.1300)" font-size="50.0" font-family='"Liberation Serif", serif' fill="#222" stroke="#222" stroke-width="1.20">–</text>
<text transform="translate(500.30,176.80) scale(0.1000,0.1300)" font-size="50.0" font-family='"Liberation Serif", serif' fill="#222" stroke="#222" stroke-width="1.20">2.08</text>
<text transform="translate(515.80,176.80) scale(0.1000,0.1300)" font-size="50.0" font-family='"Liberation Serif", serif' fill="#222" stroke="#222" stroke-width="1.20">)</text>
<line x1="384.21" y1="174.10" x2="411.20" y2="174.10" stroke="#555" stroke-width="1.0"/>
<line x1="384.21" y1="171.30" x2="384.21" y2="176.90" stroke="#555" stroke-width="1.0"/>
<line x1="411.20" y1="171.30" x2="411.20" y2="176.90" stroke="#555" stroke-width="1.0"/>
<rect x="393.61" y="171.60" width="1.60" height="5.00" fill="#000"/>
<text transform="translate(272.90,185.30) scale(0.1101,0.1300)" font-size="50.0" font-family='"Liberation Serif", serif' fill="#222" stroke="#222" stroke-width="1.20">Tacrolimus-based</text>
<text transform="translate(457.20,184.90) scale(0.1000,0.1300)" font-size="50.0" font-family='"Liberation Serif", serif' fill="#222" stroke="#222" stroke-width="1.20">1.72</text>
<text transform="translate(471.30,184.90) scale(0.1000,0.1300)" font-size="50.0" font-family='"Liberation Serif", serif' fill="#222" stroke="#222" stroke-width="1.20">(</text>
<text transform="translate(476.70,184.90) scale(0.1000,0.1300)" font-size="50.0" font-family='"Liberation Serif", serif' fill="#222" stroke="#222" stroke-width="1.20">0.86</text>
<text transform="translate(492.20,184.90) scale(0.1000,0.1300)" font-size="50.0" font-family='"Liberation Serif", serif' fill="#222" stroke="#222" stroke-width="1.20">–</text>
<text transform="translate(500.30,184.90) scale(0.1000,0.1300)" font-size="50.0" font-family='"Liberation Serif", serif' fill="#222" stroke="#222" stroke-width="1.20">3.44</text>
<text transform="translate(515.80,184.90) scale(0.1000,0.1300)" font-size="50.0" font-family='"Liberation Serif", serif' fill="#222" stroke="#222" stroke-width="1.20">)</text>
<line x1="385.27" y1="183.70" x2="440.10" y2="183.70" stroke="#555" stroke-width="1.0"/>
<line x1="385.27" y1="180.90" x2="385.27" y2="186.50" stroke="#555" stroke-width="1.0"/>
<line x1="440.10" y1="180.90" x2="440.10" y2="186.50" stroke="#555" stroke-width="1.0"/>
<rect x="402.75" y="181.20" width="1.60" height="5.00" fill="#000"/>
<text transform="translate(272.90,193.40) scale(0.1237,0.1300)" font-size="50.0" font-family='"Liberation Serif", serif' fill="#222" stroke="#222" stroke-width="1.20">Others</text>
<rect x="461.40" y="191.90" width="1.60" height="0.80" fill="#555"/>
<text transform="translate(265.20,206.00) scale(0.1036,0.1150)" font-size="52.5" font-family='"Liberation Serif", serif' font-weight="bold" fill="#000" stroke="#000" stroke-width="1.80">Type of donor</text>
<text transform="translate(272.90,214.70) scale(0.1075,0.1300)" font-size="50.0" font-family='"Liberation Serif", serif' fill="#222" stroke="#222" stroke-width="1.20">HLA-matched related</text>
<text transform="translate(457.20,213.40) scale(0.1000,0.1300)" font-size="50.0" font-family='"Liberation Serif", serif' fill="#222" stroke="#222" stroke-width="1.20">1.04</text>
<text transform="translate(471.30,213.40) scale(0.1000,0.1300)" font-size="50.0" font-family='"Liberation Serif", serif' fill="#222" stroke="#222" stroke-width="1.20">(</text>
<text transform="translate(476.70,213.40) scale(0.1000,0.1300)" font-size="50.0" font-family='"Liberation Serif", serif' fill="#222" stroke="#222" stroke-width="1.20">0.59</text>
<text transform="translate(492.20,213.40) scale(0.1000,0.1300)" font-size="50.0" font-family='"Liberation Serif", serif' fill="#222" stroke="#222" stroke-width="1.20">–</text>
<text transform="translate(500.30,213.40) scale(0.1000,0.1300)" font-size="50.0" font-family='"Liberation Serif", serif' fill="#222" stroke="#222" stroke-width="1.20">1.83</text>
<text transform="translate(515.80,213.40) scale(0.1000,0.1300)" font-size="50.0" font-family='"Liberation Serif", serif' fill="#222" stroke="#222" stroke-width="1.20">)</text>
<line x1="379.54" y1="212.00" x2="405.89" y2="212.00" stroke="#555" stroke-width="1.0"/>
<line x1="379.54" y1="209.20" x2="379.54" y2="214.80" stroke="#555" stroke-width="1.0"/>
<line x1="405.89" y1="209.20" x2="405.89" y2="214.80" stroke="#555" stroke-width="1.0"/>
<rect x="388.30" y="209.50" width="1.60" height="5.00" fill="#000"/>
<text transform="translate(272.90,224.10) scale(0.1127,0.1300)" font-size="50.0" font-family='"Liberation Serif", serif' fill="#222" stroke="#222" stroke-width="1.20">HLA-mismatched related</text>
<text transform="translate(457.20,223.90) scale(0.1000,0.1300)" font-size="50.0" font-family='"Liberation Serif", serif' fill="#222" stroke="#222" stroke-width="1.20">0.97</text>
<text transform="translate(471.30,223.90) scale(0.1000,0.1300)" font-size="50.0" font-family='"Liberation Serif", serif' fill="#222" stroke="#222" stroke-width="1.20">(</text>
<text transform="translate(476.70,223.90) scale(0.1000,0.1300)" font-size="50.0" font-family='"Liberation Serif", serif' fill="#222" stroke="#222" stroke-width="1.20">0.34</text>
<text transform="translate(492.20,223.90) scale(0.1000,0.1300)" font-size="50.0" font-family='"Liberation Serif", serif' fill="#222" stroke="#222" stroke-width="1.20">–</text>
<text transform="translate(500.30,223.90) scale(0.1000,0.1300)" font-size="50.0" font-family='"Liberation Serif", serif' fill="#222" stroke="#222" stroke-width="1.20">2.72</text>
<text transform="translate(515.80,223.90) scale(0.1000,0.1300)" font-size="50.0" font-family='"Liberation Serif", serif' fill="#222" stroke="#222" stroke-width="1.20">)</text>
<line x1="374.23" y1="222.20" x2="424.80" y2="222.20" stroke="#555" stroke-width="1.0"/>
<line x1="374.23" y1="219.40" x2="374.23" y2="225.00" stroke="#555" stroke-width="1.0"/>
<line x1="424.80" y1="219.40" x2="424.80" y2="225.00" stroke="#555" stroke-width="1.0"/>
<rect x="386.81" y="219.70" width="1.60" height="5.00" fill="#000"/>
<text transform="translate(272.90,232.40) scale(0.1063,0.1300)" font-size="50.0" font-family='"Liberation Serif", serif' fill="#222" stroke="#222" stroke-width="1.20">Unrelated, bone marrow</text>
<text transform="translate(457.20,232.30) scale(0.1000,0.1300)" font-size="50.0" font-family='"Liberation Serif", serif' fill="#222" stroke="#222" stroke-width="1.20">2.47</text>
<text transform="translate(471.30,232.30) scale(0.1000,0.1300)" font-size="50.0" font-family='"Liberation Serif", serif' fill="#222" stroke="#222" stroke-width="1.20">(</text>
<text transform="translate(476.70,232.30) scale(0.1000,0.1300)" font-size="50.0" font-family='"Liberation Serif", serif' fill="#222" stroke="#222" stroke-width="1.20">1.03</text>
<text transform="translate(492.20,232.30) scale(0.1000,0.1300)" font-size="50.0" font-family='"Liberation Serif", serif' fill="#222" stroke="#222" stroke-width="1.20">–</text>
<text transform="translate(500.30,232.30) scale(0.1000,0.1300)" font-size="50.0" font-family='"Liberation Serif", serif' fill="#222" stroke="#222" stroke-width="1.20">5.92</text>
<text transform="translate(515.80,232.30) scale(0.1000,0.1300)" font-size="50.0" font-family='"Liberation Serif", serif' fill="#222" stroke="#222" stroke-width="1.20">)</text>
<line x1="388.89" y1="229.80" x2="450.90" y2="229.80" stroke="#555" stroke-width="1.0"/>
<line x1="388.89" y1="227.00" x2="388.89" y2="232.60" stroke="#555" stroke-width="1.0"/>
<path d="M450.90,226.90 C452.30,227.50 453.40,228.80 453.40,229.80 C453.40,230.80 452.30,232.10 450.90,232.70 Z" fill="#000"/>
<rect x="418.69" y="227.30" width="1.60" height="5.00" fill="#000"/>
<text transform="translate(272.90,240.70) scale(0.1075,0.1300)" font-size="50.0" font-family='"Liberation Serif", serif' fill="#222" stroke="#222" stroke-width="1.20">Unrelated, cord blood</text>
<text transform="translate(457.20,240.40) scale(0.1000,0.1300)" font-size="50.0" font-family='"Liberation Serif", serif' fill="#222" stroke="#222" stroke-width="1.20">2.43</text>
<text transform="translate(471.30,240.40) scale(0.1000,0.1300)" font-size="50.0" font-family='"Liberation Serif", serif' fill="#222" stroke="#222" stroke-width="1.20">(</text>
<text transform="translate(476.70,240.40) scale(0.1000,0.1300)" font-size="50.0" font-family='"Liberation Serif", serif' fill="#222" stroke="#222" stroke-width="1.20">1.05</text>
<text transform="translate(492.20,240.40) scale(0.1000,0.1300)" font-size="50.0" font-family='"Liberation Serif", serif' fill="#222" stroke="#222" stroke-width="1.20">–</text>
<text transform="translate(500.30,240.40) scale(0.1000,0.1300)" font-size="50.0" font-family='"Liberation Serif", serif' fill="#222" stroke="#222" stroke-width="1.20">5.65</text>
<text transform="translate(515.80,240.40) scale(0.1000,0.1300)" font-size="50.0" font-family='"Liberation Serif", serif' fill="#222" stroke="#222" stroke-width="1.20">)</text>
<line x1="389.31" y1="238.70" x2="450.90" y2="238.70" stroke="#555" stroke-width="1.0"/>
<line x1="389.31" y1="235.90" x2="389.31" y2="241.50" stroke="#555" stroke-width="1.0"/>
<path d="M450.90,235.80 C452.30,236.40 453.40,237.70 453.40,238.70 C453.40,239.70 452.30,241.00 450.90,241.60 Z" fill="#000"/>
<rect x="417.84" y="236.20" width="1.60" height="5.00" fill="#000"/>
<text transform="translate(265.20,252.80) scale(0.1009,0.1150)" font-size="52.5" font-family='"Liberation Serif", serif' font-weight="bold" fill="#000" stroke="#000" stroke-width="1.80">Time from diagnosis to transplant</text>
<text transform="translate(272.90,261.50) scale(0.1110,0.1300)" font-size="50.0" font-family='"Liberation Serif", serif' fill="#222" stroke="#222" stroke-width="1.20">&lt;=6 months</text>
<text transform="translate(457.20,260.60) scale(0.1000,0.1300)" font-size="50.0" font-family='"Liberation Serif", serif' fill="#222" stroke="#222" stroke-width="1.20">1.56</text>
<text transform="translate(471.30,260.60) scale(0.1000,0.1300)" font-size="50.0" font-family='"Liberation Serif", serif' fill="#222" stroke="#222" stroke-width="1.20">(</text>
<text transform="translate(476.70,260.60) scale(0.1000,0.1300)" font-size="50.0" font-family='"Liberation Serif", serif' fill="#222" stroke="#222" stroke-width="1.20">0.93</text>
<text transform="translate(492.20,260.60) scale(0.1000,0.1300)" font-size="50.0" font-family='"Liberation Serif", serif' fill="#222" stroke="#222" stroke-width="1.20">–</text>
<text transform="translate(500.30,260.60) scale(0.1000,0.1300)" font-size="50.0" font-family='"Liberation Serif", serif' fill="#222" stroke="#222" stroke-width="1.20">2.61</text>
<text transform="translate(515.80,260.60) scale(0.1000,0.1300)" font-size="50.0" font-family='"Liberation Serif", serif' fill="#222" stroke="#222" stroke-width="1.20">)</text>
<line x1="386.76" y1="259.10" x2="422.46" y2="259.10" stroke="#555" stroke-width="1.0"/>
<line x1="386.76" y1="256.30" x2="386.76" y2="261.90" stroke="#555" stroke-width="1.0"/>
<line x1="422.46" y1="256.30" x2="422.46" y2="261.90" stroke="#555" stroke-width="1.0"/>
<rect x="399.35" y="256.60" width="1.60" height="5.00" fill="#000"/>
<text transform="translate(272.90,269.30) scale(0.1121,0.1300)" font-size="50.0" font-family='"Liberation Serif", serif' fill="#222" stroke="#222" stroke-width="1.20">&gt;6 months</text>
<text transform="translate(457.20,269.10) scale(0.1000,0.1300)" font-size="50.0" font-family='"Liberation Serif", serif' fill="#222" stroke="#222" stroke-width="1.20">1.28</text>
<text transform="translate(471.30,269.10) scale(0.1000,0.1300)" font-size="50.0" font-family='"Liberation Serif", serif' fill="#222" stroke="#222" stroke-width="1.20">(</text>
<text transform="translate(476.70,269.10) scale(0.1000,0.1300)" font-size="50.0" font-family='"Liberation Serif", serif' fill="#222" stroke="#222" stroke-width="1.20">0.72</text>
<text transform="translate(492.20,269.10) scale(0.1000,0.1300)" font-size="50.0" font-family='"Liberation Serif", serif' fill="#222" stroke="#222" stroke-width="1.20">–</text>
<text transform="translate(500.30,269.10) scale(0.1000,0.1300)" font-size="50.0" font-family='"Liberation Serif", serif' fill="#222" stroke="#222" stroke-width="1.20">2.28</text>
<text transform="translate(515.80,269.10) scale(0.1000,0.1300)" font-size="50.0" font-family='"Liberation Serif", serif' fill="#222" stroke="#222" stroke-width="1.20">)</text>
<line x1="382.30" y1="268.60" x2="415.45" y2="268.60" stroke="#555" stroke-width="1.0"/>
<line x1="382.30" y1="265.80" x2="382.30" y2="271.40" stroke="#555" stroke-width="1.0"/>
<line x1="415.45" y1="265.80" x2="415.45" y2="271.40" stroke="#555" stroke-width="1.0"/>
<rect x="393.40" y="266.10" width="1.60" height="5.00" fill="#000"/>
<text transform="translate(272.90,277.80) scale(0.1028,0.1300)" font-size="50.0" font-family='"Liberation Serif", serif' fill="#222" stroke="#222" stroke-width="1.20">Uncertain/missing</text>
<rect x="462.00" y="275.80" width="1.60" height="0.80" fill="#555"/>
<text transform="translate(265.20,290.30) scale(0.1033,0.1150)" font-size="52.5" font-family='"Liberation Serif", serif' font-weight="bold" fill="#000" stroke="#000" stroke-width="1.80">Year of transplant</text>
<text transform="translate(272.90,299.20) scale(0.1192,0.1300)" font-size="50.0" font-family='"Liberation Serif", serif' fill="#222" stroke="#222" stroke-width="1.20">1995–2002</text>
<text transform="translate(457.20,298.70) scale(0.1000,0.1300)" font-size="50.0" font-family='"Liberation Serif", serif' fill="#222" stroke="#222" stroke-width="1.20">1.32</text>
<text transform="translate(471.30,298.70) scale(0.1000,0.1300)" font-size="50.0" font-family='"Liberation Serif", serif' fill="#222" stroke="#222" stroke-width="1.20">(</text>
<text transform="translate(476.70,298.70) scale(0.1000,0.1300)" font-size="50.0" font-family='"Liberation Serif", serif' fill="#222" stroke="#222" stroke-width="1.20">0.72</text>
<text transform="translate(492.20,298.70) scale(0.1000,0.1300)" font-size="50.0" font-family='"Liberation Serif", serif' fill="#222" stroke="#222" stroke-width="1.20">–</text>
<text transform="translate(500.30,298.70) scale(0.1000,0.1300)" font-size="50.0" font-family='"Liberation Serif", serif' fill="#222" stroke="#222" stroke-width="1.20">2.41</text>
<text transform="translate(515.80,298.70) scale(0.1000,0.1300)" font-size="50.0" font-family='"Liberation Serif", serif' fill="#222" stroke="#222" stroke-width="1.20">)</text>
<line x1="382.30" y1="296.90" x2="418.21" y2="296.90" stroke="#555" stroke-width="1.0"/>
<line x1="382.30" y1="294.10" x2="382.30" y2="299.70" stroke="#555" stroke-width="1.0"/>
<line x1="418.21" y1="294.10" x2="418.21" y2="299.70" stroke="#555" stroke-width="1.0"/>
<rect x="394.25" y="294.40" width="1.60" height="5.00" fill="#000"/>
<text transform="translate(272.90,307.10) scale(0.1192,0.1300)" font-size="50.0" font-family='"Liberation Serif", serif' fill="#222" stroke="#222" stroke-width="1.20">2003–2005</text>
<text transform="translate(457.20,306.30) scale(0.1000,0.1300)" font-size="50.0" font-family='"Liberation Serif", serif' fill="#222" stroke="#222" stroke-width="1.20">1.42</text>
<text transform="translate(471.30,306.30) scale(0.1000,0.1300)" font-size="50.0" font-family='"Liberation Serif", serif' fill="#222" stroke="#222" stroke-width="1.20">(</text>
<text transform="translate(476.70,306.30) scale(0.1000,0.1300)" font-size="50.0" font-family='"Liberation Serif", serif' fill="#222" stroke="#222" stroke-width="1.20">0.87</text>
<text transform="translate(492.20,306.30) scale(0.1000,0.1300)" font-size="50.0" font-family='"Liberation Serif", serif' fill="#222" stroke="#222" stroke-width="1.20">–</text>
<text transform="translate(500.30,306.30) scale(0.1000,0.1300)" font-size="50.0" font-family='"Liberation Serif", serif' fill="#222" stroke="#222" stroke-width="1.20">2.31</text>
<text transform="translate(515.80,306.30) scale(0.1000,0.1300)" font-size="50.0" font-family='"Liberation Serif", serif' fill="#222" stroke="#222" stroke-width="1.20">)</text>
<line x1="385.49" y1="305.80" x2="416.09" y2="305.80" stroke="#555" stroke-width="1.0"/>
<line x1="385.49" y1="303.00" x2="385.49" y2="308.60" stroke="#555" stroke-width="1.0"/>
<line x1="416.09" y1="303.00" x2="416.09" y2="308.60" stroke="#555" stroke-width="1.0"/>
<rect x="396.38" y="303.30" width="1.60" height="5.00" fill="#000"/>
<line x1="364.80" y1="313.30" x2="453.50" y2="313.30" stroke="#888" stroke-width="1.0"/>
<line x1="366.90" y1="313.30" x2="366.90" y2="315.30" stroke="#888" stroke-width="0.8"/>
<text transform="translate(367.00,321.40) scale(0.1000,0.1080)" font-size="64.0" font-family='"Liberation Sans", sans-serif' text-anchor="middle" fill="#333" stroke="#333" stroke-width="1.20">0</text>
<line x1="387.80" y1="313.30" x2="387.80" y2="315.30" stroke="#888" stroke-width="0.8"/>
<text transform="translate(388.00,321.40) scale(0.1000,0.1080)" font-size="64.0" font-family='"Liberation Sans", sans-serif' text-anchor="middle" fill="#333" stroke="#333" stroke-width="1.20">1</text>
<line x1="408.50" y1="313.30" x2="408.50" y2="315.30" stroke="#888" stroke-width="0.8"/>
<text transform="translate(408.30,321.40) scale(0.1000,0.1080)" font-size="64.0" font-family='"Liberation Sans", sans-serif' text-anchor="middle" fill="#333" stroke="#333" stroke-width="1.20">2</text>
<line x1="430.80" y1="313.30" x2="430.80" y2="315.30" stroke="#888" stroke-width="0.8"/>
<text transform="translate(430.80,321.40) scale(0.1000,0.1080)" font-size="64.0" font-family='"Liberation Sans", sans-serif' text-anchor="middle" fill="#333" stroke="#333" stroke-width="1.20">3</text>
<line x1="451.50" y1="313.30" x2="451.50" y2="315.30" stroke="#888" stroke-width="0.8"/>
<text transform="translate(451.20,321.40) scale(0.1000,0.1080)" font-size="64.0" font-family='"Liberation Sans", sans-serif' text-anchor="middle" fill="#333" stroke="#333" stroke-width="1.20">4</text>
<text transform="translate(368.80,329.90) scale(0.1000,0.1080)" font-size="65.0" font-family='"Liberation Sans", sans-serif' text-anchor="middle" fill="#333" stroke="#333" stroke-width="1.20">Favors</text>
<text transform="translate(363.60,336.30) scale(0.1000,0.1080)" font-size="65.0" font-family='"Liberation Sans", sans-serif' text-anchor="middle" fill="#333" stroke="#333" stroke-width="1.20">grade 3-4 aGVHD</text>
<text transform="translate(422.00,329.90) scale(0.1000,0.1080)" font-size="65.0" font-family='"Liberation Sans", sans-serif' text-anchor="middle" fill="#333" stroke="#333" stroke-width="1.20">Favors</text>
<text transform="translate(423.70,336.30) scale(0.1000,0.1080)" font-size="65.0" font-family='"Liberation Sans", sans-serif' text-anchor="middle" fill="#333" stroke="#333" stroke-width="1.20">no aGVHD</text>
</g>
</svg>
</body></html>
